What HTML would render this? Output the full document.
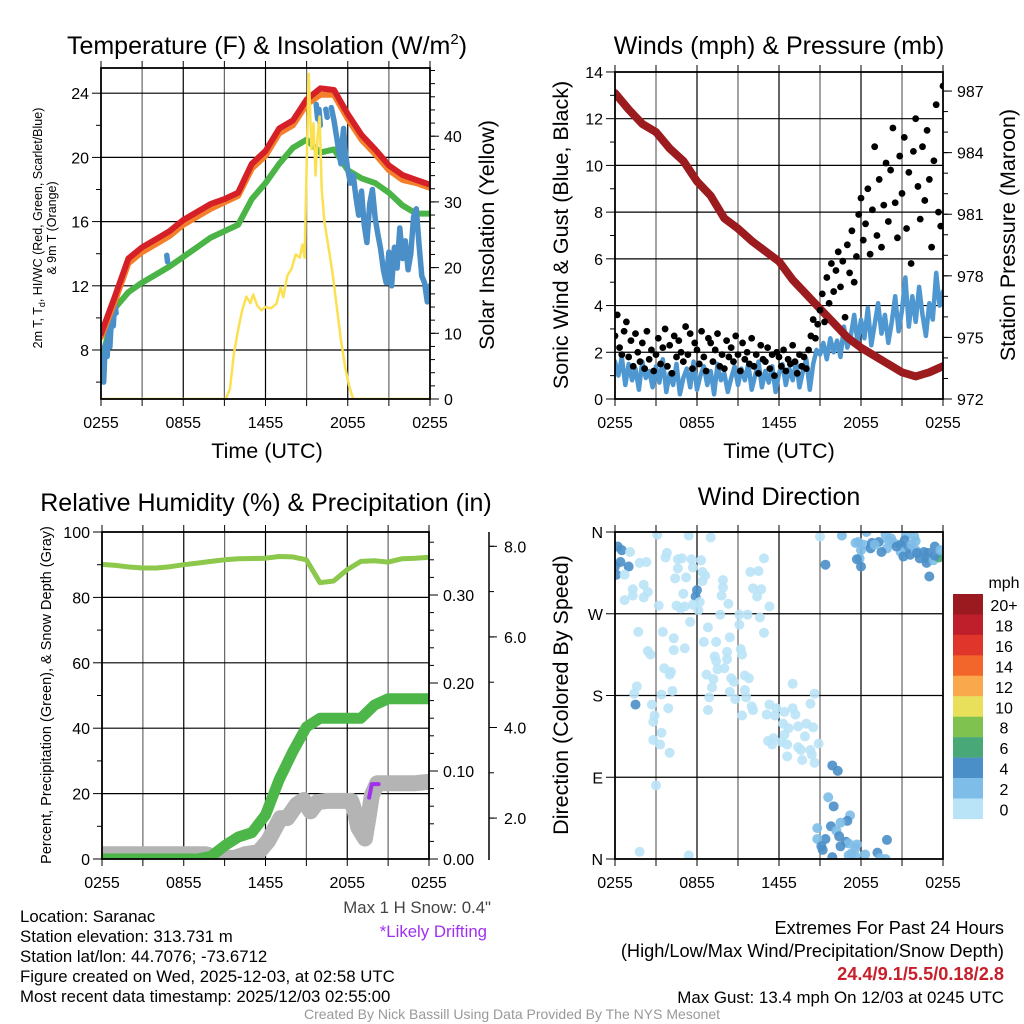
<!DOCTYPE html>
<html><head><meta charset="utf-8"><title>Saranac Mesonet Meteogram</title>
<style>
html,body{margin:0;padding:0;background:#fff;}
svg{display:block;font-family:"Liberation Sans",Arial,sans-serif;}
</style></head>
<body>
<svg id="root" width="1024" height="1024" viewBox="0 0 1024 1024" xmlns="http://www.w3.org/2000/svg">
<defs>
<clipPath id="c1"><rect x="101" y="68" width="329" height="331"/></clipPath>
<clipPath id="c2"><rect x="615" y="72" width="328" height="327"/></clipPath>
<clipPath id="c3"><rect x="102" y="532" width="327" height="327"/></clipPath>
<clipPath id="c4"><rect x="615" y="532" width="328" height="327"/></clipPath>
</defs>
<rect x="0" y="0" width="1024" height="1024" fill="#fff"/>
<g font-size="25" text-anchor="middle" fill="#000">
<text x="267" y="54">Temperature (F) &amp; Insolation (W/m<tspan font-size="15" dy="-10">2</tspan><tspan dy="10">)</tspan></text>
<text x="779" y="54">Winds (mph) &amp; Pressure (mb)</text>
<text x="266" y="511">Relative Humidity (%) &amp; Precipitation (in)</text>
<text x="779" y="505">Wind Direction</text>
</g>
<g font-size="21.5" text-anchor="middle">
<text x="267" y="458">Time (UTC)</text>
<text x="779" y="458">Time (UTC)</text>
<text transform="translate(494,235) rotate(-90)">Solar Insolation (Yellow)</text>
<text transform="translate(568,235) rotate(-90)">Sonic Wind &amp; Gust (Blue, Black)</text>
<text transform="translate(1015,235) rotate(-90)">Station Pressure (Maroon)</text>
<text transform="translate(568,695) rotate(-90)">Direction (Colored By Speed)</text>
</g>
<g font-size="12.5" text-anchor="middle">
<text transform="translate(42,228) rotate(-90)">2m T, T<tspan font-size="9" dy="3">d</tspan><tspan dy="-3">, HI/WC (Red, Green, Scarlet/Blue)</tspan></text>
<text transform="translate(56,228) rotate(-90)">&amp; 9m T (Orange)</text>
<text transform="translate(51,695) rotate(-90)" font-size="14.5">Percent, Precipitation (Green), &amp; Snow Depth (Gray)</text>
</g>
<g font-size="16.8">
<text x="491" y="913" text-anchor="end" fill="#444">Max 1 H Snow: 0.4"</text>
<text x="487" y="937" text-anchor="end" fill="#a030f0">*Likely Drifting</text>
<text x="20" y="922">Location: Saranac</text>
<text x="20" y="942">Station elevation: 313.731 m</text>
<text x="20" y="962">Station lat/lon: 44.7076; -73.6712</text>
<text x="20" y="982">Figure created on Wed, 2025-12-03, at 02:58 UTC</text>
<text x="20" y="1002">Most recent data timestamp: 2025/12/03 02:55:00</text>
</g>
<g font-size="18.2" text-anchor="end">
<text x="1004" y="934">Extremes For Past 24 Hours</text>
<text x="1004" y="957">(High/Low/Max Wind/Precipitation/Snow Depth)</text>
<text x="1004" y="980" fill="#c8202a" font-weight="bold">24.4/9.1/5.5/0.18/2.8</text>
</g>
<text x="1004" y="1003" font-size="16.9" text-anchor="end">Max Gust: 13.4 mph On 12/03 at 0245 UTC</text>
<text x="512" y="1019" font-size="14" text-anchor="middle" fill="#999">Created By Nick Bassill Using Data Provided By The NYS Mesonet</text>
<text x="1004" y="588" font-size="16" text-anchor="middle">mph</text>
</svg>
<script>
// ---------- data ----------
const hours = [0,1,2,3,4,5,6,7,8,9,10,11,12,13,14,15,16,17,18,19,20,21,22,23,24];
const tempRed = [9.0,11.3,13.7,14.4,14.9,15.4,16.1,16.6,17.1,17.4,17.8,19.6,20.4,21.8,22.3,23.6,24.3,24.2,22.7,21.4,20.5,19.5,18.9,18.6,18.3];
const temp9m = [8.8,11.0,13.4,14.1,14.6,15.1,15.8,16.3,16.8,17.2,17.6,19.3,20.1,21.5,22.0,23.3,23.9,23.9,22.4,21.1,20.2,19.2,18.6,18.4,18.1];
const dewpoint = [7.2,10.6,11.6,12.2,12.7,13.2,13.8,14.4,15.0,15.4,15.8,17.4,18.4,19.6,20.6,21.1,20.3,20.5,19.2,18.7,18.4,17.8,17.0,16.5,16.5];
const chillT = [0.0,0.1,0.2,0.3,0.45,0.55,0.65,0.8,0.9,1.0,1.1,null,4.8,4.85,null,15.7,15.8,null,15.9,16.0,null,16.4,16.5,null,16.8,17.0,17.2,17.4,17.5,17.6,17.7,17.8,18.0,18.2,18.4,18.6,18.8,19.0,19.2,19.4,19.6,19.8,20.0,20.2,20.4,20.6,20.8,21.0,21.2,21.4,21.6,21.8,22.0,22.2,22.4,22.6,22.8,23.0,23.2,23.4,23.6,23.8,24.0];
const chillV = [6.3,7.5,6.0,8.3,7.6,9.8,8.2,10.6,9.5,11.0,10.3,null,13.9,13.5,null,23.3,22.4,null,23.0,22.0,null,23.0,22.5,null,23.1,22.3,21.2,20.1,19.6,21.0,21.8,20.5,19.2,18.4,18.9,17.5,16.4,17.9,15.8,14.7,17.1,18.0,16.2,15.2,14.3,13.0,12.2,14.1,12.0,14.4,13.1,15.6,13.7,14.8,13.0,14.0,16.3,16.8,14.6,12.6,12.2,11.0,12.0];
const solarT = [0,9.1,9.4,9.7,10.0,10.3,10.6,10.9,11.1,11.4,11.7,12.0,12.4,12.8,13.1,13.3,13.6,13.9,14.2,14.5,14.7,14.85,15.0,15.15,15.25,15.35,15.5,15.65,15.8,15.95,16.1,16.3,16.6,16.9,17.2,17.5,17.8,18.1,18.4,24];
const solarV = [0,0,1.5,7,10.5,13.5,15.6,14.6,15.9,14.2,13.5,14.0,13.8,14.5,17.0,15.5,18.8,19.8,22.0,21.5,23.5,21.5,35,49.5,44,38,42,34,40,43,32,27,23,19,14,9,5,2,0,0];
const pressure = [986.9,986.1,985.4,985.0,984.2,983.6,982.6,981.9,980.8,980.3,979.7,979.2,978.7,977.8,977.1,976.4,975.7,975.0,974.5,974.1,973.7,973.3,973.1,973.3,973.6];
const windSpeed = [1.6,1.0,1.8,0.6,1.5,0.8,1.3,0.4,1.6,0.9,1.2,0.5,1.4,0.7,1.7,0.3,1.1,0.6,1.5,0.2,0.9,1.3,0.5,1.6,0.4,1.0,1.4,0.6,1.2,0.2,1.5,0.8,1.1,0.3,0.9,1.4,0.6,1.3,0.8,1.5,0.4,1.0,1.6,0.5,1.2,0.7,1.4,0.3,1.1,1.5,0.6,1.3,0.8,1.6,0.5,1.2,1.7,0.4,1.5,2.1,1.9,2.4,1.7,2.6,2.0,2.5,1.8,3.1,2.2,2.7,3.6,2.4,3.4,2.6,3.9,2.3,3.2,4.1,2.8,3.6,2.4,3.3,4.4,2.9,3.8,5.2,3.1,4.4,3.3,4.8,3.6,2.7,4.1,3.4,5.4,4.0,4.6];
const windGust = [2.7,3.6,2.2,1.9,2.9,3.3,1.8,2.5,1.4,2.8,2.0,1.6,2.4,1.3,2.9,1.7,2.1,1.2,1.9,2.6,1.5,2.2,3.0,1.4,2.3,1.1,2.7,1.8,2.5,2.0,1.6,3.1,1.9,2.8,1.3,2.4,2.1,1.5,2.9,1.8,1.2,2.6,2.4,1.6,2.1,2.8,1.4,1.9,1.3,2.5,1.8,2.2,1.6,2.7,1.9,1.2,2.4,1.7,2.0,1.5,2.6,1.4,1.9,1.1,2.3,1.7,1.6,2.2,1.3,1.9,1.0,2.0,1.8,1.4,2.1,1.2,1.7,1.5,2.3,1.6,1.1,1.9,1.4,1.8,1.3,2.1,2.7,3.4,2.6,3.2,3.8,4.5,3.3,5.2,4.1,5.8,4.6,5.5,6.3,4.8,5.9,3.5,6.6,5.4,7.2,5.0,6.1,7.9,8.6,6.8,7.5,9.0,6.2,8.1,10.8,7.0,9.4,6.5,8.3,10.1,7.6,9.8,11.6,8.4,6.9,10.4,8.8,11.2,7.3,9.7,5.8,10.6,12.0,9.1,7.7,10.8,8.5,11.5,9.4,6.5,10.2,12.6,8.0,7.4,13.4];
const rhValues = [90.1,89.8,89.3,89.0,89.0,89.4,90.0,90.5,91.0,91.5,91.8,91.9,92.0,92.5,92.4,91.5,84.5,85.0,88.5,91.0,91.2,90.8,91.8,92.0,92.3];
const precipValues = [0,0,0,0,0,0,0,0,0.003,0.015,0.025,0.030,0.050,0.090,0.122,0.150,0.160,0.160,0.160,0.160,0.175,0.182,0.182,0.182,0.182];
const snowT = [0,7.6,8.5,9.7,10.5,11.5,12.2,13.1,13.6,14.3,14.8,15.3,15.8,16.5,17.5,18.3,18.6,18.8,19.0,19.3,19.6,19.8,20.2,21,22,23,24];
const snowV = [1.2,1.2,1.13,1.12,1.2,1.25,1.5,2.0,2.0,2.3,2.4,2.15,2.35,2.38,2.38,2.38,2.1,1.8,1.7,1.55,2.1,2.5,2.77,2.77,2.77,2.77,2.8];
const driftT = [19.6,19.8,20.3];
const driftV = [2.45,2.75,2.75];
const dirT = [0.2,0.5,0.4,1.0,0.0,0.1,1.1,0.7,1.3,0.7,1.3,1.8,2.3,2.1,2.4,2.1,3.1,3.8,3.7,4.6,4.9,5.6,6.3,4.6,4.4,5.2,5.7,5.4,7.0,6.4,6.6,6.4,6.0,5.9,5.0,4.5,5.1,4.8,3.2,5.7,6.2,6.1,7.9,7.9,7.8,8.3,7.7,9.9,10.5,10.1,10.7,10.4,10.9,11.3,9.1,9.7,10.6,9.1,10.9,1.7,3.5,4.3,4.3,5.1,5.5,6.8,6.5,7.4,8.4,2.4,2.6,3.6,4.1,4.0,4.2,3.4,1.6,1.4,1.5,2.7,2.9,2.8,3.9,3.4,2.8,3.3,4.0,3.0,1.8,5.4,7.3,7.4,8.2,8.2,8.0,7.5,6.7,7.2,7.1,6.9,6.8,8.5,8.7,8.4,8.8,9.2,9.3,9.5,9.8,9.5,9.6,9.3,10.0,10.1,11.1,11.3,11.8,11.7,12.4,13.0,13.2,13.0,12.3,12.4,12.7,13.4,14.0,14.6,14.3,14.5,13.9,11.2,11.6,12.2,12.6,13.4,13.6,14.3,14.4,14.9,12.6,13.7,14.6,11.5,
15.9,16.3,15.6,16.0,17.2,17.0,16.5,15.8,14.8,15.4,14.8,16.2,16.4,16.9,17.1,17.7,17.6,16.5,15.1,15.2,17.3,17.1,18.3,19.2,19.9,19.4,19.8,15.9,17.6,
15.0,16.6,18.4,17.8,17.6,18.2,18.8,18.7,18.0,17.9,17.7,15.4,18.0,19.8,20.2,20.4,20.9,21.3,21.9,22.0,21.2,21.5,20.9,19.9,19.5,21.6,22.0,22.6,22.9,23.4,22.8,22.3,22.8,23.0,23.3,23.7,23.4,20.0,20.6,19.3,19.0,21.7,22.1,21.1,23.8];
const dirDeg = [344,340,327,322,322,313,338,313,297,285,290,326,327,302,294,288,357,337,332,330,331,330,329,320,309,310,321,356,354,316,312,306,296,289,292,279,278,276,279,280,283,274,307,299,290,281,269,316,317,298,297,289,331,278,269,269,266,258,249,250,250,243,230,232,261,255,239,239,244,229,225,210,206,203,185,181,190,182,170,170,158,151,166,139,131,126,117,81,8,4,223,218,228,220,210,209,203,198,189,178,164,199,195,184,176,231,225,202,199,186,178,158,168,164,159,170,166,158,162,166,159,193,149,137,144,146,149,182,171,145,135,130,133,129,126,123,120,120,115,127,113,109,106,126,
103,97,68,58,48,42,40,36,34,22,22,31,25,19,17,16,12,14,14,10,6,4,5,7,21,1,0,2,3,
355,356,360,349,348,346,348,342,340,331,330,324,322,357,353,348,346,357,355,350,351,342,338,342,338,335,340,338,337,344,331,331,326,311,329,332,334,351,344,349,346,346,337,333,340];
const dirSpeed = [4.5,4.5,4.5,4.5,4.5,4.5,1,1,1,1,1,1,1,1,1,1,1,1,1,1,1,1,1,1,1,1,1,1,1,1,1,1,4.5,4.5,1,1,1,1,1,1,1,1,1,1,1,1,1,1,1,1,1,1,1,1,1,1,1,1,1,1,1,1,1,1,1,1,1,1,1,1,1,1,1,1,1,1,1,1,4.5,1,1,1,1,1,1,1,1,1,1,1,1,1,1,1,1,1,1,1,1,1,1,1,1,1,1,1,1,1,1,1,1,1,1,1,1,1,1,1,1,1,1,1,1,1,1,1,1,1,1,1,1,1,1,1,1,1,1,1,1,1,1,1,1,1,
4.5,4.5,2.5,4.5,2.5,4.5,2.5,4.5,2.5,4.5,2.5,2.5,4.5,4.5,2.5,2.5,2.5,4.5,4.5,4.5,2.5,2.5,2.5,5,4.5,2.5,2.5,4.5,2.5,
1.5,2.5,2.5,2.5,2.5,2.5,4.5,4.5,2.5,2.5,4.5,4.5,4.5,2.5,2.5,2.5,4.5,2.5,2.5,2.5,4.5,4.5,2.5,2.5,4.5,4.5,2.5,4.5,4.5,4.5,4.5,4.5,4.5,4.5,2.5,6.5,4.5,2.5,4.5,4.5,2.5,2.5,4.5,4.5,2.5];
const legendLabels = ['20+','18','16','14','12','10','8','6','4','2','0'];
const legendColors = ['#9a1a1f','#bf1e2b','#e0352b','#f2662b','#f9a94b','#e8e05a','#7fc24f','#49a878','#4a8fc8','#7dbde8','#b9e3f7'];
const timeLabels = ['0255','0855','1455','2055','0255'];

// ---------- helpers ----------
const NS = 'http://www.w3.org/2000/svg';
const root = document.getElementById('root');
function mk(tag, attrs, parent, name) {
  const e = document.createElementNS(NS, tag);
  for (const k in attrs) e.setAttribute(k, attrs[k]);
  
  
  (parent || root).appendChild(e);
  return e;
}
function pathFrom(ts, vs, xf, yf) {
  let d = '', pen = false;
  for (let i = 0; i < ts.length; i++) {
    if (ts[i] === null || vs[i] === null) { pen = false; continue; }
    d += (pen ? 'L' : 'M') + xf(ts[i]).toFixed(1) + ' ' + yf(vs[i]).toFixed(1);
    pen = true;
  }
  return d;
}
function colorFor(s) {
  const idx = Math.min(10, Math.floor(s / 2));
  return legendColors[10 - idx];
}
function panel(p) {
  const xs = t => p.x0 + t * (p.x1 - p.x0) / 24;
  const g = mk('g', {}, root, p.name + '-axes');
  for (let h = 3; h < 24; h += 3) mk('line', {x1: xs(h), x2: xs(h), y1: p.y0, y2: p.y1, stroke: (h % 6 === 0) ? '#000' : '#666', 'stroke-width': 1.2}, g, p.name + '-vgrid');
  p.hgrid.forEach(v => mk('line', {x1: p.x0, x2: p.x1, y1: p.yl(v), y2: p.yl(v), stroke: '#000', 'stroke-width': 1.2}, g, p.name + '-hgrid'));
  for (let h = 0; h <= 24; h += 3) {
    mk('line', {x1: xs(h), x2: xs(h), y1: p.y1, y2: p.y1 + 7, stroke: '#000', 'stroke-width': 1}, g, p.name + '-x-tick');
    mk('line', {x1: xs(h), x2: xs(h), y1: p.y0, y2: p.y0 - 7, stroke: '#000', 'stroke-width': 1}, g, p.name + '-x-tick-top');
  }
  timeLabels.forEach((lab, i) => {
    const t = mk('text', {x: xs(i * 6), y: p.y1 + 29, 'font-size': 16, 'text-anchor': 'middle'}, g, p.name + '-x-tick-label');
    t.textContent = lab;
  });
  p.lminor.forEach(v => mk('line', {x1: p.x0 - 5, x2: p.x0, y1: p.yl(v), y2: p.yl(v), stroke: '#000'}, g, p.name + '-y-minor-tick'));
  p.lmajor.forEach((v, i) => {
    mk('line', {x1: p.x0 - 9, x2: p.x0, y1: p.yl(v), y2: p.yl(v), stroke: '#000'}, g, p.name + '-y-tick');
    const t = mk('text', {x: p.x0 - 12, y: p.yl(v) + 6, 'font-size': 16, 'text-anchor': 'end'}, g, p.name + '-y-tick-label');
    t.textContent = p.llab[i];
  });
  if (p.yr) {
    p.rminor.forEach(v => mk('line', {x1: p.x1, x2: p.x1 + 5, y1: p.yr(v), y2: p.yr(v), stroke: '#000'}, g, p.name + '-y2-minor-tick'));
    p.rmajor.forEach((v, i) => {
      mk('line', {x1: p.x1, x2: p.x1 + 9, y1: p.yr(v), y2: p.yr(v), stroke: '#000'}, g, p.name + '-y2-tick');
      const t = mk('text', {x: p.x1 + 14, y: p.yr(v) + 6, 'font-size': 16}, g, p.name + '-y2-tick-label');
      t.textContent = p.rlab[i];
    });
  }
  return xs;
}
function frame(p) {
  mk('rect', {x: p.x0, y: p.y0, width: p.x1 - p.x0, height: p.y1 - p.y0, fill: 'none', stroke: '#000', 'stroke-width': 1.8}, root, p.name + '-frame');
}
function range(a, b, s) { const r = []; for (let v = a; v <= b + 1e-9; v += s) r.push(+v.toFixed(4)); return r; }

// ---------- panel 1 ----------
const P1 = {name: 'temp-panel', x0: 101, x1: 430, y0: 68, y1: 399,
  yl: v => 350 - (v - 8) * 16.05, yr: v => 399 - v * 6.57,
  hgrid: [8, 12, 16, 20, 24], lmajor: [8, 12, 16, 20, 24], llab: ['8', '12', '16', '20', '24'], lminor: [6, 10, 14, 18, 22],
  rmajor: [0, 10, 20, 30, 40], rlab: ['0', '10', '20', '30', '40'], rminor: range(0, 50, 2)};
const x1s = panel(P1);
const g1 = mk('g', {'clip-path': 'url(#c1)', fill: 'none', 'stroke-linejoin': 'round', 'stroke-linecap': 'round'}, root, 'temp-series');
mk('path', {d: pathFrom(hours, dewpoint, x1s, P1.yl), stroke: '#4bb447', 'stroke-width': 6}, g1, 'dewpoint-line');
mk('path', {d: pathFrom(chillT, chillV, x1s, P1.yl), stroke: '#4a8fc8', 'stroke-width': 5.5}, g1, 'windchill-line');
mk('path', {d: pathFrom(hours, temp9m, x1s, P1.yl), stroke: '#f47f2a', 'stroke-width': 6}, g1, 'temp-9m-line');
mk('path', {d: pathFrom(hours, tempRed, x1s, P1.yl), stroke: '#d62027', 'stroke-width': 6}, g1, 'temp-2m-line');
mk('path', {d: pathFrom(solarT, solarV, x1s, P1.yr), stroke: '#fbe151', 'stroke-width': 2.5}, g1, 'solar-line');
frame(P1);

// ---------- panel 2 ----------
const P2 = {name: 'wind-panel', x0: 615, x1: 943, y0: 72, y1: 399,
  yl: v => 399 - v * 23.36, yr: v => 399 - (v - 972) * 20.53,
  hgrid: [2, 4, 6, 8, 10, 12], lmajor: range(0, 14, 2), llab: ['0', '2', '4', '6', '8', '10', '12', '14'], lminor: range(1, 13, 2),
  rmajor: [972, 975, 978, 981, 984, 987], rlab: ['972', '975', '978', '981', '984', '987'], rminor: range(972, 987, 1)};
const x2s = panel(P2);
const g2 = mk('g', {'clip-path': 'url(#c2)', fill: 'none', 'stroke-linejoin': 'round', 'stroke-linecap': 'round'}, root, 'wind-series');
const windT = windSpeed.map((v, i) => i * 0.25);
mk('path', {d: pathFrom(windT, windSpeed, x2s, P2.yl), stroke: '#4f97d0', 'stroke-width': 4.5}, g2, 'wind-speed-line');
mk('path', {d: pathFrom(hours, pressure, x2s, P2.yr), stroke: '#9b1b1e', 'stroke-width': 8}, g2, 'pressure-line');
windGust.forEach((v, i) => {
  const c = mk('circle', {cx: x2s(i / 6), cy: P2.yl(v), r: 3.4, fill: '#000'}, g2, 'gust-point');
});
frame(P2);

// ---------- panel 3 ----------
const P3 = {name: 'rh-panel', x0: 102, x1: 429, y0: 532, y1: 859,
  yl: v => 859 - v * 3.27, yr: v => 859 - v * 880,
  hgrid: [20, 40, 60, 80], lmajor: range(0, 100, 20), llab: ['0', '20', '40', '60', '80', '100'], lminor: range(10, 90, 20),
  rmajor: [0, 0.1, 0.2, 0.3], rlab: ['0.00', '0.10', '0.20', '0.30'], rminor: range(0, 0.36, 0.02)};
const x3s = panel(P3);
const ySnow = v => 908.7 - v * 45.3;
const sAx = mk('g', {}, root, 'snow-axis');
mk('line', {x1: 489, x2: 489, y1: 532, y2: 860, stroke: '#000', 'stroke-width': 1.5}, sAx, 'snow-axis-line');
range(2, 8, 1).forEach(v => mk('line', {x1: 489, x2: 494, y1: ySnow(v), y2: ySnow(v), stroke: '#000'}, sAx, 'snow-minor-tick'));
['2.0', '4.0', '6.0', '8.0'].forEach((lab, i) => {
  const v = 2 + i * 2;
  mk('line', {x1: 489, x2: 497, y1: ySnow(v), y2: ySnow(v), stroke: '#000'}, sAx, 'snow-tick');
  const t = mk('text', {x: 504, y: ySnow(v) + 6, 'font-size': 16}, sAx, 'snow-tick-label');
  t.textContent = lab;
});
const g3 = mk('g', {'clip-path': 'url(#c3)', fill: 'none', 'stroke-linejoin': 'round', 'stroke-linecap': 'round'}, root, 'rh-series');
mk('path', {d: pathFrom(snowT, snowV, x3s, ySnow), stroke: '#b4b4b4', 'stroke-width': 16}, g3, 'snow-depth-line');
mk('path', {d: pathFrom(driftT, driftV, x3s, ySnow), stroke: '#a030f0', 'stroke-width': 4}, g3, 'drifting-segment');
mk('path', {d: pathFrom(hours, precipValues, x3s, P3.yr), stroke: '#4cb648', 'stroke-width': 11}, g3, 'precip-line');
mk('path', {d: pathFrom(hours, rhValues, x3s, P3.yl), stroke: '#8cc84b', 'stroke-width': 5}, g3, 'rh-line');
frame(P3);

// ---------- panel 4 ----------
const P4 = {name: 'direction-panel', x0: 615, x1: 943, y0: 532, y1: 859,
  yl: v => 859 - v * 0.9083,
  hgrid: [90, 180, 270], lmajor: [0, 90, 180, 270, 360], llab: ['N', 'E', 'S', 'W', 'N'], lminor: []};
const x4s = panel(P4);
const g4 = mk('g', {'clip-path': 'url(#c4)'}, root, 'direction-series');
dirT.forEach((t, i) => {
  const c = mk('circle', {cx: x4s(t), cy: P4.yl(dirDeg[i]), r: 5, fill: colorFor(dirSpeed[i]), 'fill-opacity': 0.9}, g4, 'direction-point');
});
frame(P4);
const lg = mk('g', {}, root, 'speed-legend');
legendLabels.forEach((lab, i) => {
  mk('rect', {x: 953, y: 594 + i * 20.45, width: 30, height: 20.6, fill: legendColors[i]}, lg, 'legend-swatch');
  const t = mk('text', {x: 1004, y: 611 + i * 20.45, 'font-size': 16, 'text-anchor': 'middle'}, lg, 'legend-label');
  t.textContent = lab;
});
</script>
</body></html>
